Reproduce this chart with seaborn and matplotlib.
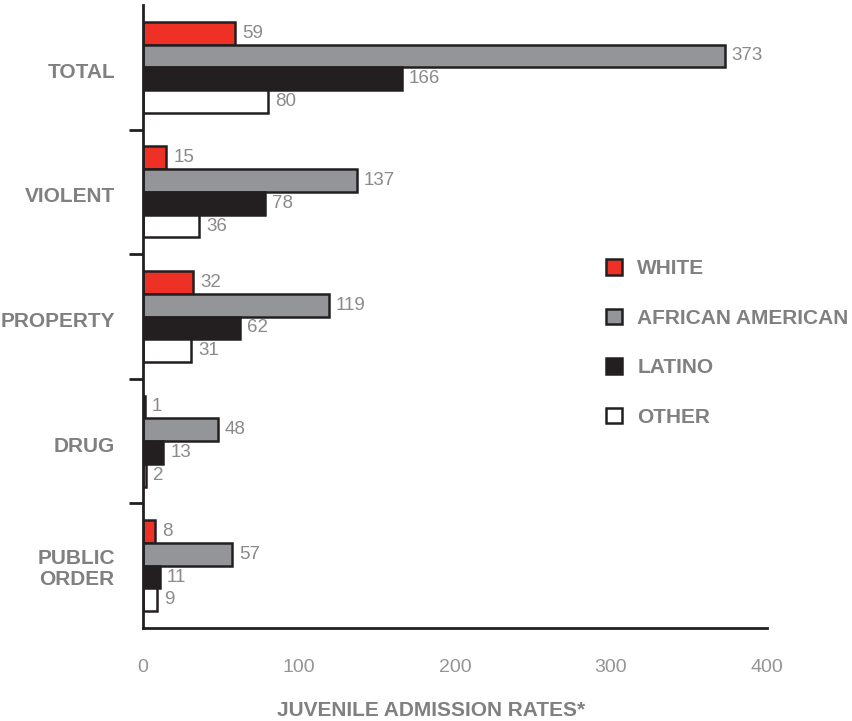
import matplotlib
matplotlib.use("Agg")
import matplotlib.pyplot as plt
from matplotlib.patches import Patch
from matplotlib.ticker import FixedLocator
from matplotlib.transforms import ScaledTranslation
import seaborn as sns
import pandas as pd

# Juvenile admission rates by offense type and race/ethnicity
categories = ["TOTAL", "VIOLENT", "PROPERTY", "DRUG", "PUBLIC\nORDER"]
groups = ["WHITE", "AFRICAN AMERICAN", "LATINO", "OTHER"]
white = [59, 15, 32, 1, 8]
african_american = [373, 137, 119, 48, 57]
latino = [166, 78, 62, 13, 11]
other = [80, 36, 31, 2, 9]
x_ticks = [0, 100, 200, 300, 400]

colors = ["#ee3124", "#939598", "#231f20", "#ffffff"]
edge = "#231f20"
label_grey = "#808080"
value_grey = "#8a8a8a"
tick_grey = "#949494"

rows = []
for g, vals in zip(groups, [white, african_american, latino, other]):
    for c, v in zip(categories, vals):
        rows.append({"category": c, "group": g, "rate": v})
df = pd.DataFrame(rows)

sns.set_theme(style="white")
plt.rcParams["font.family"] = ["Liberation Sans", "DejaVu Sans"]

fig = plt.figure(figsize=(8.52, 7.21), dpi=100)
ax = fig.add_axes([143 / 852, 1 - 628 / 721, 624 / 852, 623 / 721])

sns.barplot(data=df, y="category", x="rate", hue="group", order=categories,
            hue_order=groups, palette=colors, orient="h", width=0.73,
            edgecolor=edge, linewidth=1.8, saturation=1, legend=False, ax=ax)

for cont in ax.containers:
    ax.bar_label(cont, padding=5, fontsize=13.5, color=value_grey)

ax.set_xlim(0, 400)
ax.set_ylim(4.5, -0.5)

for s in ["top", "right"]:
    ax.spines[s].set_visible(False)
for s in ["left", "bottom"]:
    ax.spines[s].set_color(edge)
    ax.spines[s].set_linewidth(2)

# x axis: labels on every hundred, tick marks only at inner positions
ax.set_xticks(x_ticks)
ax.set_xticklabels([str(t) for t in x_ticks])
ax.xaxis.set_minor_locator(FixedLocator([100, 200, 300]))
ax.tick_params(axis="x", which="major", length=0, pad=22, labelsize=14,
               labelcolor=tick_grey)
ax.tick_params(axis="x", which="minor", length=9, width=2, color=edge,
               direction="out", bottom=True)

# y axis: category labels, separators between groups
ax.yaxis.set_minor_locator(FixedLocator([0.5, 1.5, 2.5, 3.5]))
ax.tick_params(axis="y", which="major", length=0, pad=20)
ax.tick_params(axis="y", which="minor", length=10, width=2, color=edge,
               direction="out", left=True)
nudge = ScaledTranslation(0, -3 / 100, fig.dpi_scale_trans)
for lab in ax.get_yticklabels():
    lab.set_fontsize(15)
    lab.set_fontweight("bold")
    lab.set_color(label_grey)
    lab.set_multialignment("center")
    lab.set_linespacing(1.15)
    if "\n" not in lab.get_text():
        lab.set_transform(lab.get_transform() + nudge)

ax.set_xlabel("")
ax.set_ylabel("")
fig.text(431 / 852, 1 - 711 / 721, "JUVENILE ADMISSION RATES*", ha="center",
         va="center", fontsize=15, fontweight="bold", color=label_grey)

handles = [Patch(facecolor=c, edgecolor=edge, linewidth=1.8) for c in colors]
leg = fig.legend(handles, groups, loc="center left",
                 bbox_to_anchor=(606 / 852, 1 - 343 / 721), frameon=False,
                 borderpad=0, borderaxespad=0, handlelength=0.75,
                 handleheight=0.75, handletextpad=0.75, labelspacing=1.46,
                 prop={"size": 15, "weight": "bold"})
for t in leg.get_texts():
    t.set_color(label_grey)

fig.savefig("out.png", dpi=100)
